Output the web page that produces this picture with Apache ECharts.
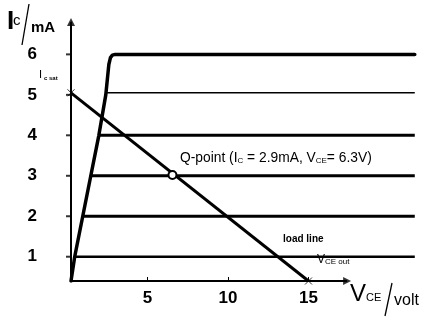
<!DOCTYPE html>
<html><head><meta charset="utf-8">
<script src="https://cdn.jsdelivr.net/npm/echarts@6/dist/echarts.min.js"></script>
<style>html,body{margin:0;padding:0;background:#fff}#c{width:440px;height:324px;background:#fff}</style>
</head><body><div id="c"></div>
<script>
// ---- data ----
const yTickValues = [1, 2, 3, 4, 5, 6];            // mA
const xTickValues = [5, 10, 15];                   // volt
const curveCurrents = [1.0, 2.0, 3.0, 4.0, 5.05];  // Ic levels (mA) of the flat curves
const curveStartV = [0.48, 0.98, 1.48, 1.98, 2.41];// where each curve leaves the saturation line
const curveEndV = 21.6;
const envelopeV = [0.25, 0.48, 0.98, 1.48, 1.98, 2.41, 2.6, 2.7, 2.82, 3.0, 21.6];
const envelopeI = [0.4, 1.0, 2.0, 3.0, 4.0, 5.0, 5.75, 5.92, 5.98, 6.0, 6.0];
const loadLineV = [0.25, 15.0];
const loadLineI = [5.05, 0.4];
const qPointV = 6.55, qPointI = 3.02;
const xRange = [0.25, 21.8];
const yRange = [0.4, 6.8];
const xAxisEnd = 17.4;

// ---- styles ----
const curveWidths = [2.5, 3, 3, 3, 1.5];
const FONT = 'Liberation Sans, Arial, Helvetica, sans-serif';

const chart = echarts.init(document.getElementById('c'));

const series = [];
series.push({
  type: 'line', data: [[xRange[0], yRange[0]], [xAxisEnd, yRange[0]]],
  symbol: 'none', clip: false,
  lineStyle: {color: '#000', width: 2}
});
series.push({
  type: 'line', data: [[xRange[0], yRange[0]], [xRange[0], yRange[1]]],
  symbol: 'none', clip: false,
  lineStyle: {color: '#000', width: 2}
});
series.push({
  type: 'scatter', data: [[xAxisEnd, yRange[0]]], symbol: 'triangle', symbolSize: 8,
  symbolRotate: -90, clip: false, itemStyle: {color: '#000'}
});
series.push({
  type: 'scatter', data: [[xRange[0], yRange[1]]], symbol: 'triangle', symbolSize: 8,
  clip: false, itemStyle: {color: '#000'}
});
series.push({
  type: 'scatter', data: yTickValues.map(v => [xRange[0], v]), symbol: 'rect',
  symbolSize: [5, 2], symbolOffset: [-2.5, 0], clip: false, itemStyle: {color: '#000'}
});
series.push({
  type: 'line', name: 'sat', data: envelopeV.map((v, i) => [v, envelopeI[i]]),
  showSymbol: false, z: 3,
  lineStyle: {color: '#000', width: 3.5, join: 'round', cap: 'round'}
});
curveCurrents.forEach((c, i) => {
  series.push({
    type: 'line', data: [[curveStartV[i], c], [curveEndV, c]],
    showSymbol: false,
    lineStyle: {color: '#000', width: curveWidths[i], cap: 'butt'}
  });
});
series.push({
  type: 'line', name: 'load', data: loadLineV.map((v, i) => [v, loadLineI[i]]),
  showSymbol: false,
  lineStyle: {color: '#000', width: 3}
});
series.push({
  type: 'scatter', data: loadLineV.map((v, i) => [v, loadLineI[i]]),
  symbol: 'path://M0,0L10,10M10,0L0,10', symbolSize: 7, clip: false,
  itemStyle: {color: 'none', borderColor: '#000', borderWidth: 1}
});
series.push({
  type: 'scatter', data: [[qPointV, qPointI]], symbol: 'circle', symbolSize: 8,
  itemStyle: {color: '#fff', borderColor: '#000', borderWidth: 2, opacity: 1}, z: 5
});

const sub = (fs) => ({fontSize: fs, fontFamily: FONT, verticalAlign: 'bottom', fill: '#000'});

chart.setOption({
  animation: false,
  grid: {left: 71, right: 22, top: 22, bottom: 43},
  xAxis: {
    type: 'value', min: xRange[0], max: xRange[1],
    axisLine: {show: false, onZero: false},
    axisTick: {show: true, length: 4, inside: true, customValues: xTickValues, lineStyle: {color: '#000', width: 1}},
    axisLabel: {customValues: xTickValues, color: '#000', fontSize: 17, fontWeight: 'bold', fontFamily: FONT, margin: 9},
    splitLine: {show: false}
  },
  yAxis: {
    type: 'value', min: yRange[0], max: yRange[1],
    axisLine: {show: true, onZero: false, lineStyle: {color: '#000', width: 1}},
    axisTick: {show: false},
    axisLabel: {customValues: yTickValues, color: '#000', fontSize: 17, fontWeight: 'bold', fontFamily: FONT, margin: 34},
    splitLine: {show: false}
  },
  series: series,
  graphic: [
    {type: 'text', left: 7, top: 9, style: {text: 'I', font: 'bold 26px ' + FONT, fill: '#000'}},
    {type: 'text', left: 13, top: 13, style: {text: 'c', font: '15px ' + FONT, fill: '#000'}},
    {type: 'line', shape: {x1: 29, y1: 4, x2: 22, y2: 45}, style: {stroke: '#000', lineWidth: 1.3}},
    {type: 'text', left: 31, top: 20, style: {text: 'mA', font: 'bold 15px ' + FONT, fill: '#000'}},
    {type: 'text', left: 39, top: 69, style: {text: 'I', font: '11px ' + FONT, fill: '#000'}},
    {type: 'text', left: 44, top: 75, style: {text: 'c sat', font: 'bold 6px ' + FONT, fill: '#000'}},
    {type: 'text', left: 180, top: 151, style: {
      text: '{a|Q-point (I}{s|C}{a| = 2.9mA, V}{s|CE}{a|= 6.3V)}',
      rich: {a: {fontSize: 13.8, fontFamily: FONT, fill: '#000'}, s: sub(8)}
    }},
    {type: 'text', left: 283, top: 234, style: {text: 'load line', font: 'bold 10px ' + FONT, fill: '#000'}},
    {type: 'text', left: 317, top: 254, style: {
      text: '{a|V}{s|CE out}',
      rich: {a: {fontSize: 12, fontFamily: FONT, fill: '#000'}, s: sub(8)}
    }},
    {type: 'text', left: 350, top: 282, style: {text: 'V', font: '24px ' + FONT, fill: '#000'}},
    {type: 'text', left: 366, top: 292, style: {text: 'CE', font: '11px ' + FONT, fill: '#000'}},
    {type: 'line', shape: {x1: 392, y1: 283, x2: 385, y2: 316}, style: {stroke: '#000', lineWidth: 1.3}},
    {type: 'text', left: 394, top: 293, style: {text: 'volt', font: '16px ' + FONT, fill: '#000'}}
  ]
});
</script>
</body></html>
